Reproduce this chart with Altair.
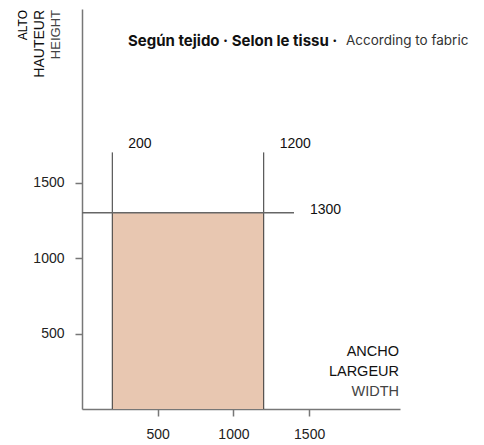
import altair as alt
import pandas as pd

# --- data ---
x_ticks = [500, 1000, 1500]
y_ticks = [500, 1000, 1500]
x_domain = [0, 2100]
y_domain = [0, 2650]

rect_x = [200]
rect_x2 = [1200]
rect_y = [0]
rect_y2 = [1300]

vline_x = [200, 1200]
vline_y = [0, 0]
vline_y2 = [1700, 1700]
vline_labels = ["200", "1200"]

hline_y = [1300]
hline_x = [0]
hline_x2 = [1400]
hline_labels = ["1300"]

rect_df = pd.DataFrame({"x": rect_x, "x2": rect_x2, "y": rect_y, "y2": rect_y2})
vline_df = pd.DataFrame({"x": vline_x, "y": vline_y, "y2": vline_y2, "label": vline_labels})
hline_df = pd.DataFrame({"y": hline_y, "x": hline_x, "x2": hline_x2, "label": hline_labels})

xs = alt.Scale(domain=x_domain, nice=False, zero=False)
ys = alt.Scale(domain=y_domain, nice=False, zero=False)

xaxis = alt.Axis(values=x_ticks, title=None, grid=False, format="d")
yaxis = alt.Axis(values=y_ticks, title=None, grid=False, format="d")

rect = alt.Chart(rect_df).mark_rect(color="#E8C7B1").encode(
    x=alt.X("x:Q", scale=xs, axis=xaxis), x2="x2", y=alt.Y("y:Q", scale=ys, axis=yaxis), y2="y2"
)

vlines = alt.Chart(vline_df).mark_rule(color="#333333", strokeWidth=1).encode(
    x=alt.X("x:Q", scale=xs), y=alt.Y("y:Q", scale=ys), y2="y2"
)
vlabels = alt.Chart(vline_df).mark_text(
    align="left", baseline="middle", dx=16, dy=-8, fontSize=14, font="Liberation Sans", color="#111111"
).encode(x=alt.X("x:Q", scale=xs), y=alt.Y("y2:Q", scale=ys), text="label:N")

hlines = alt.Chart(hline_df).mark_rule(color="#666666", strokeWidth=1.5).encode(
    y=alt.Y("y:Q", scale=ys), x=alt.X("x:Q", scale=xs), x2="x2"
)
hlabels = alt.Chart(hline_df).mark_text(
    align="left", baseline="middle", dx=16, dy=-3, fontSize=14, font="Liberation Sans", color="#111111"
).encode(x=alt.X("x2:Q", scale=xs), y=alt.Y("y:Q", scale=ys), text="label:N")

def note(text, x, y, size=14, weight="normal", color="#111111", align="left", angle=0, font="Liberation Sans"):
    return alt.Chart(pd.DataFrame({"t": [text]})).mark_text(
        align=align, baseline="middle", fontSize=size, fontWeight=weight, color=color, angle=angle, font=font
    ).encode(x=alt.value(x), y=alt.value(y), text="t:N")

notes = [
    note("Según tejido · Selon le tissu ·", 46, 32, size=15, weight="bold", color="#111111", font="Inter"),
    note("According to fabric", 264, 32, size=13.5, weight="normal", color="#333333", font="Inter"),
    note("ANCHO", 317, 343, size=14.5, color="#111111", align="right"),
    note("LARGEUR", 317, 362.5, size=14.5, color="#111111", align="right"),
    note("WIDTH", 317, 382.5, size=14.5, color="#444444", align="right"),
    note("ALTO", -59, 1, size=12, color="#000000", align="right", angle=270),
    note("HAUTEUR", -42, 1, size=14, color="#111111", align="right", angle=270),
    note("HEIGHT", -26, 1, size=13, color="#444444", align="right", angle=270),
]

chart = alt.layer(rect, vlines, hlines, vlabels, hlabels, *notes).properties(
    width=318,
    height=400,
    autosize=alt.AutoSizeParams(type="none"),
    padding={"left": 74, "top": 1, "right": 76, "bottom": 36},
).configure_view(stroke=None).configure_axis(
    domainColor="#777777",
    domainWidth=1.5,
    tickColor="#777777",
    tickWidth=1.5,
    tickSize=7,
    labelFontSize=14,
    labelFont="Liberation Sans",
    labelColor="#222222",
    labelPadding=11,
)

chart.save("out.html", embed_options={"renderer": "svg", "actions": False})
